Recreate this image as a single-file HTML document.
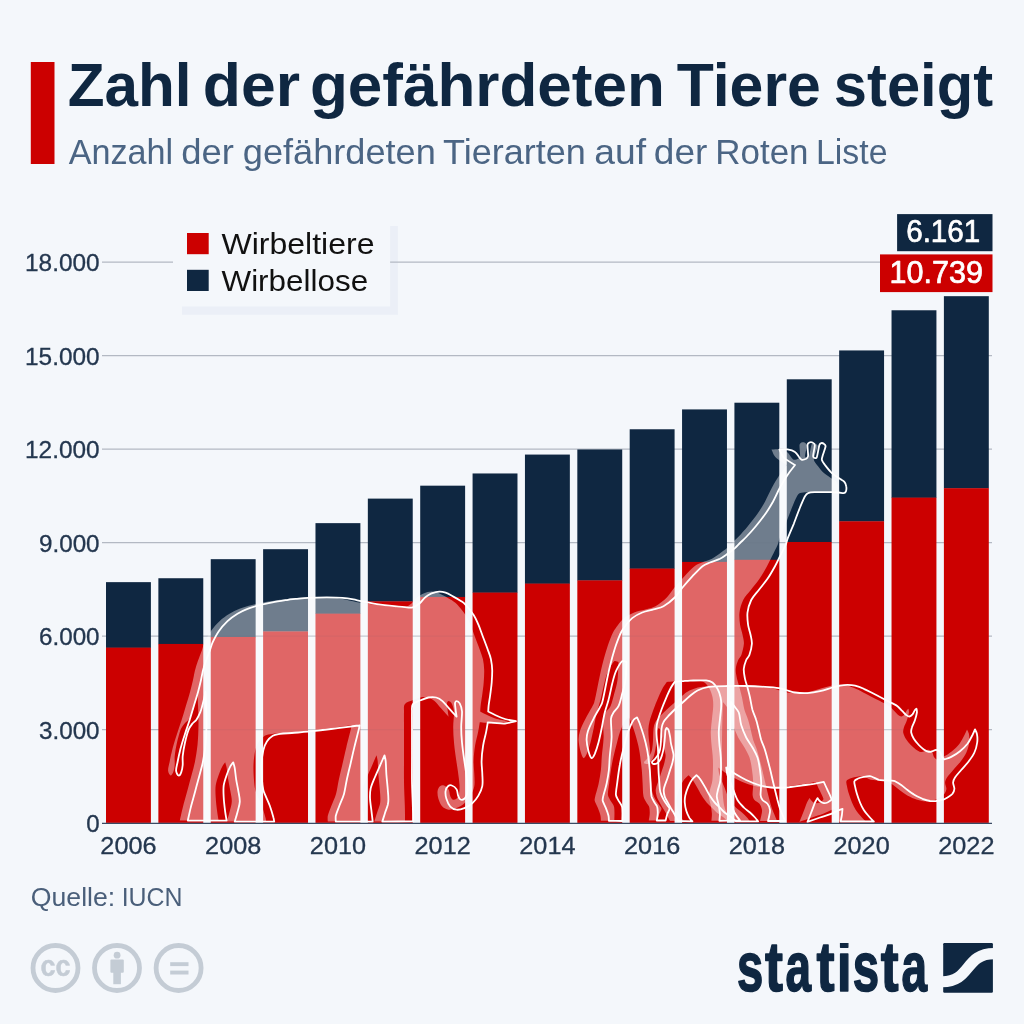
<!DOCTYPE html>
<html lang="de">
<head>
<meta charset="utf-8">
<title>Zahl der gefährdeten Tiere steigt</title>
<style>
html,body{margin:0;padding:0;background:#f4f7fb;}
body{width:1024px;height:1024px;overflow:hidden;font-family:'Liberation Sans', Arial, Helvetica, sans-serif;}
svg{display:block;position:absolute;left:0;top:0;}
text{font-family:'Liberation Sans', Arial, Helvetica, sans-serif;}
.t-title{font-weight:700;fill:#0f2741;}
.t-sub{fill:#4b6584;}
.t-axis{fill:#24374f;stroke:#24374f;stroke-width:0.3px;}
.t-leg{fill:#111111;}
.t-val{fill:#ffffff;stroke:#ffffff;stroke-width:0.7px;stroke-linejoin:round;}
.t-src{fill:#4a5f7a;}
.t-logo{font-weight:700;fill:#0f2741;}
</style>
</head>
<body>
<svg width="1024" height="1024" viewBox="0 0 1024 1024">
<rect x="0" y="0" width="1024" height="1024" fill="#f4f7fb"/>
<g id="header">
<rect x="30.8" y="62" width="23.7" height="102" fill="#cc0000"/>
<text class="t-title" y="105.6" font-size="62"><tspan x="67.7" textLength="123.83" lengthAdjust="spacingAndGlyphs">Zahl</tspan> <tspan x="202.78" textLength="97.21" lengthAdjust="spacingAndGlyphs">der</tspan> <tspan x="310" textLength="354.84" lengthAdjust="spacingAndGlyphs">gefährdeten</tspan> <tspan x="676.77" textLength="144.02" lengthAdjust="spacingAndGlyphs">Tiere</tspan> <tspan x="833.83" textLength="159.24" lengthAdjust="spacingAndGlyphs">steigt</tspan></text>
<text class="t-sub" y="163.6" font-size="34.6"><tspan x="68.75" textLength="104.46" lengthAdjust="spacingAndGlyphs">Anzahl</tspan> <tspan x="181.22" textLength="52.69" lengthAdjust="spacingAndGlyphs">der</tspan> <tspan x="242.83" textLength="193" lengthAdjust="spacingAndGlyphs">gefährdeten</tspan> <tspan x="442.97" textLength="142.87" lengthAdjust="spacingAndGlyphs">Tierarten</tspan> <tspan x="594.38" textLength="51.8" lengthAdjust="spacingAndGlyphs">auf</tspan> <tspan x="653.89" textLength="53.52" lengthAdjust="spacingAndGlyphs">der</tspan> <tspan x="715.32" textLength="93.23" lengthAdjust="spacingAndGlyphs">Roten</tspan> <tspan x="816.06" textLength="71.45" lengthAdjust="spacingAndGlyphs">Liste</tspan></text>
</g>
<rect id="legend-shadow" x="182" y="226" width="215.9" height="88.8" fill="#ebeff7"/>
<g id="grid" stroke="#b3b9c3" stroke-width="1.2">
<line x1="102" y1="729.7" x2="992" y2="729.7"/>
<line x1="102" y1="636.2" x2="992" y2="636.2"/>
<line x1="102" y1="542.7" x2="992" y2="542.7"/>
<line x1="102" y1="449.2" x2="992" y2="449.2"/>
<line x1="102" y1="355.7" x2="992" y2="355.7"/>
<line x1="102" y1="262.2" x2="992" y2="262.2"/>
</g>
<g id="ylabels" class="t-axis" font-size="23.3" text-anchor="end">
<text x="99.6" y="832" textLength="13.4" lengthAdjust="spacingAndGlyphs">0</text>
<text x="99.6" y="738.5" textLength="60.6" lengthAdjust="spacingAndGlyphs">3.000</text>
<text x="99.6" y="645" textLength="60.6" lengthAdjust="spacingAndGlyphs">6.000</text>
<text x="99.6" y="551.5" textLength="60.6" lengthAdjust="spacingAndGlyphs">9.000</text>
<text x="99.6" y="458" textLength="74.6" lengthAdjust="spacingAndGlyphs">12.000</text>
<text x="99.6" y="364.5" textLength="74.6" lengthAdjust="spacingAndGlyphs">15.000</text>
<text x="99.6" y="271" textLength="74.6" lengthAdjust="spacingAndGlyphs">18.000</text>
</g>
<g id="legend">
<rect x="173" y="218" width="217.1" height="88.5" fill="#f4f7fb"/>
<rect x="187" y="233" width="21.7" height="21.2" fill="#cc0000"/>
<rect x="187" y="269.8" width="21.7" height="21.2" fill="#0f2741"/>
<text class="t-leg" y="254" font-size="30"><tspan x="221.48" textLength="152.98" lengthAdjust="spacingAndGlyphs">Wirbeltiere</tspan></text>
<text class="t-leg" y="290.8" font-size="30"><tspan x="221.49" textLength="146.62" lengthAdjust="spacingAndGlyphs">Wirbellose</tspan></text>
</g>
<g id="bars">
<rect x="106" y="582.14" width="44.9" height="65.78" fill="#0f2741"/>
<rect x="106" y="647.62" width="44.9" height="175.28" fill="#cc0000"/>
<rect x="158.37" y="578.24" width="44.9" height="66" fill="#0f2741"/>
<rect x="158.37" y="643.94" width="44.9" height="178.96" fill="#cc0000"/>
<rect x="210.74" y="559.17" width="44.9" height="78.09" fill="#0f2741"/>
<rect x="210.74" y="636.96" width="44.9" height="185.94" fill="#cc0000"/>
<rect x="263.11" y="549.19" width="44.9" height="82.55" fill="#0f2741"/>
<rect x="263.11" y="631.44" width="44.9" height="191.46" fill="#cc0000"/>
<rect x="315.48" y="523.14" width="44.9" height="90.81" fill="#0f2741"/>
<rect x="315.48" y="613.65" width="44.9" height="209.25" fill="#cc0000"/>
<rect x="367.84" y="498.61" width="44.9" height="103.06" fill="#0f2741"/>
<rect x="367.84" y="601.37" width="44.9" height="221.53" fill="#cc0000"/>
<rect x="420.21" y="485.68" width="44.9" height="111.56" fill="#0f2741"/>
<rect x="420.21" y="596.94" width="44.9" height="225.96" fill="#cc0000"/>
<rect x="472.58" y="473.46" width="44.9" height="119.42" fill="#0f2741"/>
<rect x="472.58" y="592.58" width="44.9" height="230.32" fill="#cc0000"/>
<rect x="524.95" y="454.57" width="44.9" height="129.33" fill="#0f2741"/>
<rect x="524.95" y="583.6" width="44.9" height="239.3" fill="#cc0000"/>
<rect x="577.32" y="449.46" width="44.9" height="131.23" fill="#0f2741"/>
<rect x="577.32" y="580.39" width="44.9" height="242.51" fill="#cc0000"/>
<rect x="629.69" y="429.26" width="44.9" height="139.61" fill="#0f2741"/>
<rect x="629.69" y="568.58" width="44.9" height="254.32" fill="#cc0000"/>
<rect x="682.06" y="409.41" width="44.9" height="152.8" fill="#0f2741"/>
<rect x="682.06" y="561.91" width="44.9" height="260.99" fill="#cc0000"/>
<rect x="734.42" y="402.71" width="44.9" height="157.38" fill="#0f2741"/>
<rect x="734.42" y="559.79" width="44.9" height="263.11" fill="#cc0000"/>
<rect x="786.79" y="379.3" width="44.9" height="162.99" fill="#0f2741"/>
<rect x="786.79" y="541.99" width="44.9" height="280.91" fill="#cc0000"/>
<rect x="839.16" y="350.44" width="44.9" height="171.16" fill="#0f2741"/>
<rect x="839.16" y="521.3" width="44.9" height="301.6" fill="#cc0000"/>
<rect x="891.53" y="310.27" width="44.9" height="187.64" fill="#0f2741"/>
<rect x="891.53" y="497.61" width="44.9" height="325.29" fill="#cc0000"/>
<rect x="943.9" y="296.18" width="44.9" height="192.32" fill="#0f2741"/>
<rect x="943.9" y="488.2" width="44.9" height="334.7" fill="#cc0000"/>
</g>
<g id="animals">
<defs>
<clipPath id="clip-elephant"><path d="M202 650C202.9 647.5 203.4 644.9 204.5 642.5C206 639.4 208.3 634.8 210.8 631.2C213.2 627.7 216.4 624.2 219.5 621.2C222.5 618.4 226.2 615.8 229.5 613.8C232.7 611.8 236 610.1 239.5 608.8C243.2 607.3 247.8 606.1 252 605C256.1 603.9 260.3 603.1 264.5 602.3C269.2 601.4 276.1 600.4 280 599.8C282.5 599.4 285.1 599.2 287.6 598.9C291 598.6 295.9 598 300.1 597.8C305.3 597.5 313.2 597.3 318.9 597.3C324.1 597.3 330.1 597.4 334.5 597.8C338.2 598.1 342.3 598.8 345.4 599.4C348 599.9 350.6 600.7 353.2 601.2C356.6 602 361.6 603 365.8 603.6C370.4 604.3 376.2 605 381.4 605.6C386.6 606.2 393.1 606.9 397 607.2C399.6 607.4 402.3 608 404.8 607.3C407.3 606.6 409.7 604.9 411.8 603.2C413.9 601.5 415.3 598.9 417.3 597.3C419.2 595.7 421.3 594.3 423.6 593.4C426 592.5 429.1 591.7 431.4 591.6C433.5 591.5 435.6 592 437.6 592.7C439.9 593.5 442.8 595.2 445.4 596.6C448 598 451.3 600 453.2 601.2C454.7 602.2 456.1 603.1 457.2 604.4C459.3 606.7 463.6 611.9 465.8 615.3C467.7 618.2 469 621.5 470.4 624.7C472 628.4 473.5 633 475.1 637.2C476.7 641.4 478.5 646.1 479.8 649.7C480.9 652.8 482.2 655.9 482.9 659.1C483.6 662.5 484.1 666.3 484.2 670C484.3 673.9 484 678.3 483.7 682.5C483.4 686.7 482.7 691.1 482.2 695C481.7 698.6 480.9 703.1 480.6 705.9C480.4 707.8 480.3 710.6 480.2 711.5C481.4 712.1 485.1 714.1 487.6 715.2C490.4 716.5 493.8 718 497 719C500.4 720 506.1 720.8 507.9 721.2C506.1 721.6 500.6 723.2 497 723.5C493.4 723.8 488.9 723 486 722.8C483.9 722.7 480.8 722.4 479.8 722.3C479.5 723.8 478.9 728.5 478.2 731.6C477.5 735.5 475.8 740.9 475.1 745.6C474.3 750.5 473.7 756.6 473.6 761.2C473.5 765.4 474.2 769.6 474.3 773.8C474.4 777.9 475 782.6 474.3 786.2C473.7 789.6 472.1 792.7 470.4 795.6C468.7 798.5 466.5 801.3 464.2 803.4C461.9 805.4 459 807 456.4 808.1C453.9 809.1 451 810 448.6 809.7C446.3 809.5 443.9 808.3 442.3 806.6C440.6 804.8 439.2 801.4 438.4 798.8C437.6 796.2 437.3 793 437.6 790.9C437.8 789.2 438.9 787.1 440 786.2C441 785.4 442.7 785 443.9 785.5C445.3 786 447.6 787.7 448.6 789.4C449.6 791.1 449.5 793.9 450.1 795.6C450.6 797 451.4 799 452.5 799.5C453.6 800 455.4 799.6 456.4 798.8C457.5 797.8 458.6 795.8 459 794C459.5 791.7 459.6 788 459.5 785C459.3 781.3 458.5 776 458 772C457.5 768.4 456.9 764.8 456.4 761.2C455.7 756.3 454.5 748.2 454 742.5C453.5 737.3 453.2 732.1 453.2 726.9C453.2 721.7 454.3 715.2 454 711.2C453.8 708.5 452.6 705.1 451.7 703.4C451.1 702.3 449.4 701.1 448.6 701.1C447.8 701.1 447 702.5 447 703.4C447 706 448.3 714.5 448.6 716.7C447.3 715.3 443.1 710.7 440.8 708.1C438.7 705.8 436.6 702.9 434.5 701.1C432.7 699.5 430.6 698.1 428.2 697.5C425.9 696.9 423 697 420.4 697.5C417.8 698 415.1 699.2 412.6 700.3C410 701.4 406.2 702.2 404.8 704.2C403.4 706.2 404.1 709.4 404 712C403.9 715.8 404 721.9 404 726.9C404 734.6 404 749 404 758.1C404 765.9 403.9 773.8 404 781.6C404.1 789.4 404.6 798.4 404.8 805C405 810.5 405.1 818.7 405.1 821.4C400 821.4 379.4 821.6 374.3 821.6C374.8 820.2 376.1 815.8 377 813C377.9 810.3 379.2 807.1 379.8 804.8C380.2 803 380.4 801.2 380.4 799.4C380.4 796.9 380.1 793 379.8 789.8C379.5 785.7 378.8 779.6 378.4 774.8C378.1 770.2 378 764.4 377.7 761.1C377.5 759.1 376.7 756.3 376.5 755.3C375.8 756.9 373.6 761.9 372.2 765.2C370.6 768.9 368.4 773.6 366.8 777.5C365.3 781.1 363.5 785 362.7 788.4C362 791.5 361.9 794.8 362 798C362.1 801.6 362.9 806.4 363.4 810.3C363.8 814.1 364.5 819.7 364.7 821.6C358.6 821.6 333.9 821.6 327.8 821.6C327.8 820.6 327.4 817.7 327.8 815.8C328.4 813.2 330 809.4 331.2 806.2C332.6 802.6 334.8 798.1 336 793.9C337.2 789.6 337.7 784.7 338.7 780.2C339.7 775.4 341 770.2 342.2 765.2C343.5 759.7 344.9 753.1 346.3 747.4C347.6 741.9 349.5 734.7 350.4 731C350.9 729.1 351.5 726.2 351.7 725.3C350.1 725.5 345.4 726.2 342.2 726.6C337.4 727.2 329.4 728.2 323 729C315.9 729.9 306.3 731 299.8 731.7C294.5 732.2 288.4 732.6 283.8 733C279.9 733.3 275.3 733.4 272.1 733.9C269.6 734.3 267 734.4 264.8 735.7C262.6 737 260.4 739.2 258.9 741.5C257.3 743.9 256 747.2 255.3 750.3C254.4 754.2 253.7 760.1 253.5 765C253.3 770 253.7 775.9 254 780C254.2 783.3 254.7 787.3 255.3 789.9C255.7 791.9 256.7 793.8 257.5 795.7C258.6 798.4 260.6 802.5 261.9 806C263.2 809.7 264.8 815.1 265.5 817.7C265.9 819 266.1 821 266.2 821.6C259.7 821.6 233.3 821.6 226.7 821.6C227.2 820 228.8 815.1 229.6 811.8C230.4 808.5 231.7 805 231.8 801.6C231.9 798.2 231 794.7 230.4 791.3C229.8 787.6 228.8 783.5 228.2 779.6C227.6 775.7 227.2 770.8 226.7 767.9C226.4 766 225.4 763.2 225.2 762.3C224.7 763 223.1 764.9 222.3 766.4C221.2 768.5 219.6 772.2 218.6 775.2C217.5 778.4 216.2 782 215.7 785.5C215.2 789.2 215.5 793.3 215.7 797.2C215.9 801.6 216.7 807.9 217.2 811.8C217.6 814.7 218.4 819.1 218.6 820.6C212.1 820.6 186.3 820.6 179.8 820.6C180.3 818.4 181.7 811.8 182.8 807.4C184 802.5 185.8 796.7 187.2 791.3C188.6 785.9 190.2 780.1 191.5 775.2C192.7 770.8 194 766.5 194.9 762C195.9 757 196.9 750.7 197.5 745C198.1 738.8 198.4 731.7 198.5 725C198.6 718.3 198.2 710.5 198 705C197.9 700.7 197.6 694.2 197.5 692C197.2 693.2 196.5 696.9 196 699C195.5 701 195 702.9 194.5 704.9C193.9 707.1 193.3 709.8 192.3 712.2C191.3 714.6 189.9 717.5 188.6 719.5C187.4 721.2 185.5 722.3 184.2 723.9C182.9 725.6 181.4 727.6 180.6 729.8C179.4 733 177.9 738.6 176.9 743C175.9 747.4 175.1 752.5 174.7 756.2C174.4 759.1 174.9 762.3 174.7 765C174.5 767.5 173.9 770.5 173.2 772.3C172.7 773.6 171.3 775.8 170.5 775.5C169.7 775.2 168.2 772.6 168.1 770.8C167.9 768.5 169 764.9 169.6 762C170.3 758.3 171.4 753.2 172.5 748.8C173.7 744.2 175.4 738.8 176.9 734.2C178.3 729.8 179.9 725.4 181.3 721C182.8 716.4 184.2 711.3 185.7 706.4C187.2 701.5 188.9 696.1 190.1 691.7C191.2 687.8 192.1 683.9 193 680C193.9 676 194.5 671.6 195.8 667.5C197.2 662.5 200.5 654.2 202 650Z"/></clipPath>
<clipPath id="clip-giraffe"><path d="M771.5 449.5C772.8 449.5 776.9 449 779.5 449.4C782.1 449.8 785 450.5 787 451.9C789 453.2 790.2 456.2 791.4 457.5C792.1 458.3 792.8 459.5 793.9 459.8C795 460 797.2 459.3 798.2 458.8C799.2 458.2 800 457.3 800.1 456.2C800.3 454 799.3 447.3 799.5 445C799.6 444 800.6 442.9 801.4 442.5C802.2 442.1 803.6 442.1 804.5 442.5C805.4 442.9 806.7 443.9 806.8 445C806.9 447.3 805.1 454.1 805.1 456.2C805.1 457.1 806.4 458 807 458.1C807.6 458.2 808.7 457.6 808.9 456.9C809.6 454.7 810.7 447.3 811.4 445C811.7 444.2 812.5 443.3 813.2 443.1C814 442.9 815.1 443.2 815.8 443.8C816.5 444.3 817.7 445.2 817.6 446.2C817.4 448.3 815.1 454 814.5 456.2C814.2 457.5 813.6 458.8 813.9 460C814.3 461.5 815.8 463.4 817 465C818.7 467.2 821.4 470.8 823.9 473.1C826.3 475.3 829.9 477.3 832 478.8C833.5 479.8 835.4 480.6 836.4 481.9C837.4 483.1 838 484.7 838.2 486.2C838.5 487.8 838.4 490.1 838 491.2C837.7 492.2 836.7 492.9 835.8 493.1C834.5 493.3 832.4 492.6 830.8 492.5C828.8 492.4 826.2 492.3 823.9 492.2C819.9 492.2 811 492.1 807 492.2C804.7 492.3 801.8 492.4 800.1 493.1C798.7 493.6 797.7 495 797 496.2C795.6 498.6 793.6 503.7 792 507.5C790.1 512.1 787.8 518.5 785.8 523.8C783.7 528.8 780.9 535.2 779.5 538.8C778.7 540.8 778.5 543 777.6 545C776.4 547.9 773.8 552.7 772 556.2C770.3 559.6 768.8 563 767 566.2C764.9 570 762.2 574.8 759.5 578.8C756.8 582.7 753.5 586.5 750.8 590C748.2 593.3 745.1 596.3 743.2 600C741.4 603.8 740 608.3 739.5 612.5C739 616.6 739.6 621.2 740.1 625C740.6 628.4 742 631.9 742.6 635C743.2 637.9 744.1 640.8 743.9 643.8C743.7 647.1 742.3 652.3 741.4 655C740.8 656.9 739 658.2 738.2 660C737.3 662.3 736 665.7 735.8 668.8C735.5 671.9 736.4 675.6 737 678.8C737.6 681.7 738.7 684.6 739.5 687.5C740.3 690.6 741.3 694.1 742 697.5C742.8 701.2 743.5 706.2 744.5 710C745.5 713.4 747.2 716.7 748.2 720C749.3 723.3 749.9 726.7 750.8 730C751.6 733.3 752.2 736.7 753.2 740C754.3 743.3 756 746.6 757 750C758.5 754.8 760.5 762.9 762 768.8C763.3 774.1 764.5 779.8 765.8 785C767 790 768.5 796 769.5 800C770.3 802.9 771.1 806.1 772 808.8C772.9 811.2 774.2 814 775 816C775.7 817.7 776.7 820.2 777 821C774.2 821 762.8 821 760 821C760.2 820 761.1 816.8 761.4 815C761.7 813.3 762.3 811.7 762 810C761.7 808.1 760.8 805.4 759.5 803.8C758.2 802.1 755.6 801.5 754.5 800C753.4 798.6 752.7 796.8 752.6 795C752.4 792.1 753.4 786.7 753.2 782.5C753.1 778.3 752.6 774.1 752 770C751.4 765.8 750.8 761.2 749.5 757.5C748.3 754 746.3 750.7 744.5 747.5C742.6 744.2 740 741 738.2 737.5C736.4 733.8 734.5 729.2 733.2 725C732 720.9 732 715.7 730.8 712.5C729.7 709.9 727 707.4 725.8 705.6C724.9 704.4 723.5 702.6 723 702C722.9 704.2 722.6 710.7 722.5 715C722.3 723 722 738.3 722 750C722 762.5 722.2 780.8 722.5 790C722.7 795 723.4 801.2 724 805C724.4 807.6 725.2 810.2 726.4 812.5C727.7 815.1 731.1 819.2 732 820.5C728.6 820.5 714.8 820.8 711.4 820.8C711.5 819.6 712 816.1 711.9 813.8C711.8 811.3 711.3 808.4 710.8 805.7C710.3 802.8 709 799.1 708.8 796.6C708.7 794.5 709.4 792.5 709.8 790.5C710.4 787.8 712 783.8 712.4 780.3C712.9 775.2 713.1 766.1 712.9 760C712.8 754.6 711.8 748.5 711.4 743.8C711.1 739.6 710.6 735.4 710.8 731.2C710.9 727.1 711.6 722.9 712 718.8C712.4 714.6 713.1 709.8 713.2 706.2C713.3 703.3 713.2 700.4 712.6 697.5C712 694.6 710.9 691.2 709.5 688.8C708.2 686.4 706.4 683.9 704.5 682.5C702.7 681.2 700.4 680.6 698.2 680.4C694.5 680.1 686 680.5 682 680.6C679.4 680.7 676.8 681 674.2 681.2C671.7 681.5 668 681.8 666.8 681.9C666.1 682.8 664.1 685.5 663 687.5C661.6 690.1 659.7 694.3 658.2 697.8C656.6 701.5 654.9 705.6 653.5 709.5C652.1 713.4 650.5 718 649.6 721.2C648.9 723.8 648.5 726.4 648.4 729C648.3 731.9 648.5 735.3 648.8 738.4C649.1 741.7 649.8 745.2 650 748.6C650.3 753.9 650.3 764.2 650.5 770C650.7 774.4 651.1 779.5 651.4 783.2C651.6 786.1 651.6 789.2 652.3 792C653 794.8 654.6 797.7 655.8 799.9C656.8 801.8 658.3 803.7 659.3 805.2C660 806.4 661.5 807.3 661.5 808.7C661.5 810.2 659.9 812.2 659.3 814C658.6 816 657.9 819.4 657.6 820.5C656.1 820.5 650.3 820.5 648.8 820.5C648.9 819.4 649.6 816.2 649.7 814C649.8 811.7 649.7 808.7 649.2 806.9C648.9 805.6 647.7 804.6 647 803.4C646 801.6 644.1 798.9 643.5 796.4C642.8 793 642.9 787.6 642.6 783.2C642.3 778.8 642.2 774.4 641.8 770C641.2 764.5 640.3 755.8 639.2 750C638.3 744.9 636.8 739.4 635.5 735C634.4 731.2 632.8 726.7 631.8 723.8C631 721.6 629.5 718.5 629 717.4C628.4 717.8 626.3 718.8 625.5 720C624.3 721.7 622.8 725 621.8 727.5C620.7 729.9 619.7 732.4 619 735C617.8 739.4 615.5 748.8 614.2 753.8C613.3 757.5 612.4 761.2 611.8 765C610.9 769.9 609.8 778.3 609.2 783.2C608.7 787 607.8 791.8 607.9 794.6C608 796.5 609.2 798.2 610.1 799.9C611.1 801.9 613.6 804.3 614.1 806.9C614.8 810.4 614.3 818.6 614.3 821C612.1 821 603.1 820.8 600.9 820.8C600.8 819.9 600.9 817.4 600.5 815.7C600 813.5 598.8 810.3 597.8 807.8C596.9 805.4 595.1 802.6 594.7 800.8C594.4 799.3 594.9 797.8 595.2 796.4C595.9 793.5 597.8 787.6 598.7 783.2C599.6 778.8 600.4 774.4 600.9 770C601.4 765.5 601.4 760.8 601.8 756.2C602.2 750.8 603.4 743.8 603.6 737.5C603.8 731.3 602.7 722.9 603 718.8C603.2 716.5 604.3 714.4 605.5 712.5C606.8 710.4 609.4 708.7 610.5 706.2C612 703.1 613.1 698 614.2 693.8C615.4 689.4 616.9 684.7 617.5 680C618.2 674.7 618.3 665 618.5 662C617.8 661.9 615.3 660.3 614.2 661.2C612.5 662.8 609.6 667.7 608 671.2C606.3 675 605.3 679.5 604.2 683.8C603 688.5 601.8 695.2 600.5 700C599.4 704.2 597.8 708.3 596.8 712.5C595.6 717.3 594.6 723.8 593.6 728.8C592.6 733.3 591.6 738.3 590.5 742.5C589.5 746.3 587.9 751.1 586.8 753.8C586 755.4 584.6 758.5 583.6 758.1C582.6 757.7 581.2 753.7 580.5 751.2C579.7 748.2 578.7 743.3 578.6 740C578.5 737.1 579 734.1 579.9 731.2C581 727.7 583.5 722.7 585.5 718.8C587.4 714.9 590.3 710.2 591.8 707.5C592.6 705.9 593.7 704.3 594.2 702.5C595.2 699.2 596.4 692.5 597.4 687.5C598.4 682.5 599.4 677.5 600.5 672.5C601.6 667.5 603 662.1 604.2 657.5C605.4 653.3 606.6 649.1 608 645C609.5 640.8 611.3 635.8 613 632.5C614.3 629.8 616.2 627.4 618 625C619.9 622.6 621.8 620 624.2 618.1C627 616 630.7 613.9 634.2 612.5C637.8 611 642 610.4 645.5 609.4C648.9 608.4 652.5 608 655.5 606.2C659 604.3 663.6 600.6 666.8 597.5C669.8 594.5 671.8 590.7 674.5 587.5C677.5 584 681.2 579.8 684.5 576.2C687.7 572.8 691.6 568.5 694.5 566.2C696.7 564.5 699.4 563.6 702 562.5C704.9 561.2 709.1 560.2 712 558.8C714.7 557.4 717.1 555.5 719.5 553.8C722 552 724.9 549.9 727 548.1C728.8 546.5 730.3 544.7 732 543C733.9 541.1 736.3 539.1 738.2 537C740.9 534.2 744.9 529.8 748 526C751.3 522 755.1 517.1 758 513C760.6 509.3 762.9 505.4 765.1 501.5C767.4 497.2 769.6 491.9 772 487.5C774.3 483.2 777 478.8 779.5 475C781.8 471.5 785.8 466.7 787 465C785.1 463.8 778.3 460.1 775.8 457.5C773.6 455.4 772.2 450.8 771.5 449.5Z"/></clipPath>
<clipPath id="clip-rhino"><path d="M653.5 729.1C653.8 727 654.1 724.7 655.1 722.8C656.1 720.7 658 718.5 659.8 716.6C661.7 714.4 664.5 711.7 666.8 709.5C669.1 707.4 671.5 705.4 673.8 703.3C676.3 701.1 679 698.4 681.6 696.2C684.1 694.2 686.6 691.9 689.5 690.5C692.7 688.9 696.9 687.5 700.8 686.9C705.8 686.1 713.2 686.1 719.5 686C725.7 685.9 732 685.9 738.2 686C744.5 686.1 751.6 686.5 757 686.9C761.6 687.2 767.2 687.6 770.8 688.1C773.3 688.5 775.8 689.3 778.2 690C781 690.7 784 692.1 787 692.5C790.5 693 795.3 693.3 799.5 693.1C803.7 692.9 807.9 692.2 812 691.2C816.2 690.3 821.2 688.4 824.5 687.5C827 686.8 829.5 686.1 832 685.6C834.5 685.1 837 684.8 839.5 684.8C842 684.8 844.6 685 847 685.6C849.7 686.3 852.9 687.5 855.8 688.8C858.9 690.1 862.4 692.1 865.8 693.8C869.1 695.5 872.7 697.4 875.8 699C878.5 700.4 881.6 701.9 883.9 703.1C885.8 704.1 887.8 704.9 889.5 706.2C891.3 707.6 893 709.8 894.5 711.2C895.8 712.5 897.1 714.1 898.2 715C899.2 715.7 900.4 716.6 901.4 716.5C902.4 716.4 903.7 715.3 904.5 714.4C905.4 713.3 906.3 710.9 907 710C907.4 709.5 908.2 709 908.5 708.8C908.6 709.4 909.1 711.3 908.9 712.5C908.6 714.4 907.8 717.6 907 720C906.2 722.5 904.5 725.4 903.9 727.5C903.4 729.1 903 730.8 903.2 732.5C903.6 734.4 904.6 736.8 905.8 738.8C907 740.8 909.1 743.2 910.8 745C912.3 746.6 914.1 748.2 915.8 749.4C917.3 750.5 919.3 751.6 920.8 751.9C922 752.2 923.3 751.6 924.5 751.2C925.8 750.9 927 749.6 928.2 749.8C929.5 749.9 931.1 750.9 932 752C933 753.2 933.3 755.8 934 757C934.6 758 936 759 936.4 759.4C937.5 759 941.1 758 943.2 756.9C945.9 755.5 949.3 753.4 952 751.2C954.7 749.1 957.4 746.5 959.5 743.8C961.5 741.1 963.2 737.4 964.5 735C965.4 733.2 966.6 730.3 967 729.4C967.3 730.1 968.6 732.2 968.9 733.8C969.3 735.9 969.6 739.6 969.2 742.5C968.8 745.6 967.8 749.4 966.4 752.5C965 755.6 962.8 758.5 960.8 761.2C958.6 764.2 955.5 767.3 953.2 770C951.1 772.5 948.4 775.4 947 777.5C946 779 945.2 780.7 945.1 782.5C945 784.4 946.5 786.9 946.4 788.8C946.3 790.5 945.6 792.3 944.5 793.8C943.4 795.2 940.9 796.6 939.5 797.5C938.4 798.2 937.3 799 936 799.4C934.1 800 930.6 800.7 928.2 801C926.2 801.2 924.1 801.3 922 801C919.7 800.6 916.9 799.7 914.5 798.8C911.8 797.6 908.2 795.9 905.8 794.4C903.5 793.1 901.5 791.5 899.5 790C897.4 788.4 895.3 786.5 893.2 785C891.3 783.6 888.6 782 887 781.2C886 780.8 885 780.7 883.9 780.6C882 780.4 877.9 780.4 875.8 780.3C874.1 780.2 872.2 780.1 870.8 779.8C869.4 779.4 868.3 778.6 867 778.1C865.5 777.5 863.8 776.4 862 776.2C860.1 776 857.8 776.5 855.8 776.9C853.7 777.3 851.1 778 849.5 778.8C848.3 779.3 846.8 780 846.4 781.2C846 782.5 846.7 784.6 847 786.2C847.4 788.3 848.1 791.3 848.9 793.8C849.7 796.5 850.9 799.8 852 802.5C853.1 805.1 854.3 807.7 855.8 810C857.2 812.3 859.1 814.3 860.8 816.2C862.3 818.1 864.9 820.6 865.8 821.5C860.2 821.5 838.1 821.5 832.6 821.5C832.8 820.4 833.6 817.1 833.9 815C834.2 812.9 834.4 809.8 834.5 808.8C834 809 832.4 809.5 831.4 810C829.5 810.8 826 812.7 823.2 813.8C820 815 815.7 816.2 812 817.5C808 818.9 801.6 821.2 799.5 821.9C800.1 820.3 802 815.6 803.2 812.5C804.5 809.3 806 804.9 807 802.5C807.7 801 809.1 798.8 809.5 798.1C809.9 798.6 811 800.4 812 801.2C813 802.1 814.5 802.9 815.8 803.1C817 803.3 818.3 803 819.5 802.5C820.8 802 822.6 800.4 823.2 800C823.2 799.7 823.5 798.7 823.2 798.1C822.6 796.4 820.8 792.7 819.5 790C818.2 787.3 816.4 783.2 815.8 781.9C814.1 782.2 809.1 783.2 805.8 783.8C802 784.4 797.4 785 793.2 785.6C788.7 786.2 783.2 787.2 778.2 787.5C773.3 787.8 767.8 787.9 763.2 787.5C759 787.1 754.8 786.2 750.8 785C746.6 783.8 742.2 781.9 738.2 780C734.4 778.2 730.3 775.8 727 773.8C724 771.9 719.7 768.5 718.2 767.5C718.5 768.8 718.7 772.6 719.5 775C720.5 778.3 722.8 783.3 724.5 787.5C726.2 791.7 727.6 796.7 729.5 800C731.1 802.8 733.7 805.4 735.8 807.5C737.6 809.4 740.1 810.8 742 812.5C743.8 814.1 745.6 816 747 817.5C748.1 818.7 749.6 820.8 750.1 821.4C746.4 821.4 731.7 821.4 728 821.4C727.2 820.7 724.8 818.4 723 817C721.1 815.6 718.8 814.3 716.9 812.8C715.1 811.3 713.6 809.4 711.9 807.7C710.2 806 708.3 804.5 706.8 802.7C705.1 800.7 703.3 798 701.7 795.5C700 792.8 698.3 789.3 696.6 786.4C695 783.7 692.9 780.2 691.5 778.3C690.7 777.1 689 775.7 688.5 775.2C687.8 775.9 685.5 777.7 684.4 779.3C683 781.2 681.5 783.9 680.4 786.4C679.2 789.1 677.9 792.8 677.3 795.5C676.8 797.8 676.6 800.3 676.8 802.7C677 805.2 677.5 808.3 678.3 810.8C679 813.3 680.4 816.1 681.4 817.9C682.2 819.2 683.9 820.8 684.4 821.4C682 821.3 672.4 821.1 670 821C669.4 819.8 667.4 815.9 666.4 814C665.6 812.5 664.6 811 663.7 809.5C662.7 807.7 661.3 805.5 660.2 803.4C659 801.2 657.4 798.8 656.7 796.4C656 794.1 655.5 791.7 655.8 789.3C656.2 786.4 658.2 782 659.3 778.8C660.3 775.9 661.2 772.7 662.1 770C662.9 767.6 663.8 765.1 664.4 762.7C665 760.4 665.6 757.8 665.6 755.6C665.6 753.5 664.8 751.5 664.4 749.4C663.9 747.3 663.3 745.2 662.9 743.1C662.5 741.1 662.5 739 662.1 736.9C661.7 734.7 661.1 731.3 660.5 729.8C660.2 729 658.9 728.2 658.6 727.9C658.4 728.4 657.6 729.6 657.4 730.6C657.1 732.8 657 737.4 656.6 740.8C656.2 744.2 655.8 747.9 655.1 750.9C654.5 753.6 653.8 756.7 652.7 758.8C651.8 760.6 650.1 762.6 648.8 763.4C647.7 764.1 645.7 764 644.9 763.8C644.2 763.6 643.8 762.5 644.1 761.9C644.5 761.1 646.4 759.9 647.2 758.8C648.4 757.2 650.3 754.8 651.2 752.5C652.1 750.2 652.4 747.3 652.7 744.7C653 742.1 653 739.5 653.1 736.9C653.2 734.3 653.2 731.5 653.5 729.1Z"/></clipPath>
</defs>
<g id="elephant-fill" clip-path="url(#clip-elephant)">
<rect x="164.1" y="587.6" width="347.8" height="238" fill="#ffffff" fill-opacity="0.4"/>
<line x1="164.1" y1="729.7" x2="511.9" y2="729.7" stroke="#5b6472" stroke-opacity="0.07" stroke-width="1.2"/>
<line x1="164.1" y1="636.2" x2="511.9" y2="636.2" stroke="#5b6472" stroke-opacity="0.07" stroke-width="1.2"/>
</g>
<g id="giraffe-fill" clip-path="url(#clip-giraffe)">
<rect x="574.6" y="438.5" width="267.6" height="386.5" fill="#ffffff" fill-opacity="0.4"/>
<line x1="574.6" y1="729.7" x2="842.2" y2="729.7" stroke="#5b6472" stroke-opacity="0.07" stroke-width="1.2"/>
<line x1="574.6" y1="636.2" x2="842.2" y2="636.2" stroke="#5b6472" stroke-opacity="0.07" stroke-width="1.2"/>
<line x1="574.6" y1="542.7" x2="842.2" y2="542.7" stroke="#5b6472" stroke-opacity="0.07" stroke-width="1.2"/>
<line x1="574.6" y1="449.2" x2="842.2" y2="449.2" stroke="#5b6472" stroke-opacity="0.07" stroke-width="1.2"/>
</g>
<g id="rhino-fill" clip-path="url(#clip-rhino)">
<rect x="640.1" y="680.8" width="333.1" height="145.1" fill="#ffffff" fill-opacity="0.4"/>
<line x1="640.1" y1="729.7" x2="973.2" y2="729.7" stroke="#5b6472" stroke-opacity="0.07" stroke-width="1.2"/>
</g>
<g id="animal-lines" fill="none" stroke="#ffffff" stroke-width="1.8" stroke-linejoin="round">
<path id="elephant-line" d="M210 650C210.9 647.5 211.4 644.9 212.5 642.5C214 639.4 216.3 634.8 218.8 631.2C221.2 627.7 224.4 624.2 227.5 621.2C230.5 618.4 234.2 615.8 237.5 613.8C240.7 611.8 244 610.1 247.5 608.8C251.2 607.3 255.8 606.1 260 605C264.1 603.9 268.3 603.1 272.5 602.3C277.2 601.4 284.1 600.4 288 599.8C290.5 599.4 293.1 599.2 295.6 598.9C299 598.6 303.9 598 308.1 597.8C313.3 597.5 321.2 597.3 326.9 597.3C332.1 597.3 338.1 597.4 342.5 597.8C346.2 598.1 350.3 598.8 353.4 599.4C356 599.9 358.6 600.7 361.2 601.2C364.6 602 369.6 603 373.8 603.6C378.4 604.3 384.2 605 389.4 605.6C394.6 606.2 401.1 606.9 405 607.2C407.6 607.4 410.3 608 412.8 607.3C415.3 606.6 417.7 604.9 419.8 603.2C421.9 601.5 423.3 598.9 425.3 597.3C427.2 595.7 429.3 594.3 431.6 593.4C434 592.5 437.1 591.7 439.4 591.6C441.5 591.5 443.6 592 445.6 592.7C447.9 593.5 450.8 595.2 453.4 596.6C456 598 459.3 600 461.2 601.2C462.7 602.2 464.1 603.1 465.2 604.4C467.3 606.7 471.6 611.9 473.8 615.3C475.7 618.2 477 621.5 478.4 624.7C480 628.4 481.5 633 483.1 637.2C484.7 641.4 486.5 646.1 487.8 649.7C488.9 652.8 490.2 655.9 490.9 659.1C491.6 662.5 492.1 666.3 492.2 670C492.3 673.9 492 678.3 491.7 682.5C491.4 686.7 490.7 691.1 490.2 695C489.7 698.6 488.9 703.1 488.6 705.9C488.4 707.8 488.3 710.6 488.2 711.5C489.4 712.1 493.1 714.1 495.6 715.2C498.4 716.5 501.8 718 505 719C508.4 720 514.1 720.8 515.9 721.2C514.1 721.6 508.6 723.2 505 723.5C501.4 723.8 496.9 723 494 722.8C491.9 722.7 488.8 722.4 487.8 722.3C487.5 723.8 486.9 728.5 486.2 731.6C485.5 735.5 483.8 740.9 483.1 745.6C482.3 750.5 481.7 756.6 481.6 761.2C481.5 765.4 482.2 769.6 482.3 773.8C482.4 777.9 483 782.6 482.3 786.2C481.7 789.6 480.1 792.7 478.4 795.6C476.7 798.5 474.5 801.3 472.2 803.4C469.9 805.4 467 807 464.4 808.1C461.9 809.1 459 810 456.6 809.7C454.3 809.5 451.9 808.3 450.3 806.6C448.6 804.8 447.2 801.4 446.4 798.8C445.6 796.2 445.3 793 445.6 790.9C445.8 789.2 446.9 787.1 448 786.2C449 785.4 450.7 785 451.9 785.5C453.3 786 455.6 787.7 456.6 789.4C457.6 791.1 457.5 793.9 458.1 795.6C458.6 797 459.4 799 460.5 799.5C461.6 800 463.4 799.6 464.4 798.8C465.5 797.8 466.6 795.8 467 794C467.5 791.7 467.6 788 467.5 785C467.3 781.3 466.5 776 466 772C465.5 768.4 464.9 764.8 464.4 761.2C463.7 756.3 462.5 748.2 462 742.5C461.5 737.3 461.2 732.1 461.2 726.9C461.2 721.7 462.3 715.2 462 711.2C461.8 708.5 460.6 705.1 459.7 703.4C459.1 702.3 457.4 701.1 456.6 701.1C455.8 701.1 455 702.5 455 703.4C455 706 456.3 714.5 456.6 716.7C455.3 715.3 451.1 710.7 448.8 708.1C446.7 705.8 444.6 702.9 442.5 701.1C440.7 699.5 438.6 698.1 436.2 697.5C433.9 696.9 431 697 428.4 697.5C425.8 698 423.1 699.2 420.6 700.3C418 701.4 414.2 702.2 412.8 704.2C411.4 706.2 412.1 709.4 412 712C411.9 715.8 412 721.9 412 726.9C412 734.6 412 749 412 758.1C412 765.9 411.9 773.8 412 781.6C412.1 789.4 412.6 798.4 412.8 805C413 810.5 413.1 818.7 413.1 821.4C408 821.4 387.4 821.6 382.3 821.6C382.8 820.2 384.1 815.8 385 813C385.9 810.3 387.2 807.1 387.8 804.8C388.2 803 388.4 801.2 388.4 799.4C388.4 796.9 388.1 793 387.8 789.8C387.5 785.7 386.8 779.6 386.4 774.8C386.1 770.2 386 764.4 385.7 761.1C385.5 759.1 384.7 756.3 384.5 755.3C383.8 756.9 381.6 761.9 380.2 765.2C378.6 768.9 376.4 773.6 374.8 777.5C373.3 781.1 371.5 785 370.7 788.4C370 791.5 369.9 794.8 370 798C370.1 801.6 370.9 806.4 371.4 810.3C371.8 814.1 372.5 819.7 372.7 821.6C366.6 821.6 341.9 821.6 335.8 821.6C335.8 820.6 335.4 817.7 335.8 815.8C336.4 813.2 338 809.4 339.2 806.2C340.6 802.6 342.8 798.1 344 793.9C345.2 789.6 345.7 784.7 346.7 780.2C347.7 775.4 349 770.2 350.2 765.2C351.5 759.7 352.9 753.1 354.3 747.4C355.6 741.9 357.5 734.7 358.4 731C358.9 729.1 359.5 726.2 359.7 725.3C358.1 725.5 353.4 726.2 350.2 726.6C345.4 727.2 337.4 728.2 331 729C323.9 729.9 314.3 731 307.8 731.7C302.5 732.2 296.4 732.6 291.8 733C287.9 733.3 283.3 733.4 280.1 733.9C277.6 734.3 275 734.4 272.8 735.7C270.6 737 268.4 739.2 266.9 741.5C265.3 743.9 264 747.2 263.3 750.3C262.4 754.2 261.7 760.1 261.5 765C261.3 770 261.7 775.9 262 780C262.2 783.3 262.7 787.3 263.3 789.9C263.7 791.9 264.7 793.8 265.5 795.7C266.6 798.4 268.6 802.5 269.9 806C271.2 809.7 272.8 815.1 273.5 817.7C273.9 819 274.1 821 274.2 821.6C267.7 821.6 241.3 821.6 234.7 821.6C235.2 820 236.8 815.1 237.6 811.8C238.4 808.5 239.7 805 239.8 801.6C239.9 798.2 239 794.7 238.4 791.3C237.8 787.6 236.8 783.5 236.2 779.6C235.6 775.7 235.2 770.8 234.7 767.9C234.4 766 233.4 763.2 233.2 762.3C232.7 763 231.1 764.9 230.3 766.4C229.2 768.5 227.6 772.2 226.6 775.2C225.5 778.4 224.2 782 223.7 785.5C223.2 789.2 223.5 793.3 223.7 797.2C223.9 801.6 224.7 807.9 225.2 811.8C225.6 814.7 226.4 819.1 226.6 820.6C220.1 820.6 194.3 820.6 187.8 820.6C188.3 818.4 189.7 811.8 190.8 807.4C192 802.5 193.8 796.7 195.2 791.3C196.6 785.9 198.2 780.1 199.5 775.2C200.7 770.8 202 766.5 202.9 762C203.9 757 204.9 750.7 205.5 745C206.1 738.8 206.4 731.7 206.5 725C206.6 718.3 206.2 710.5 206 705C205.9 700.7 205.6 694.2 205.5 692C205.2 693.2 204.5 696.9 204 699C203.5 701 203 702.9 202.5 704.9C201.9 707.1 201.3 709.8 200.3 712.2C199.3 714.6 197.9 717.5 196.6 719.5C195.4 721.2 193.5 722.3 192.2 723.9C190.9 725.6 189.4 727.6 188.6 729.8C187.4 733 185.9 738.6 184.9 743C183.9 747.4 183.1 752.5 182.7 756.2C182.4 759.1 182.9 762.3 182.7 765C182.5 767.5 181.9 770.5 181.2 772.3C180.7 773.6 179.3 775.8 178.5 775.5C177.7 775.2 176.2 772.6 176.1 770.8C175.9 768.5 177 764.9 177.6 762C178.3 758.3 179.4 753.2 180.5 748.8C181.7 744.2 183.4 738.8 184.9 734.2C186.3 729.8 187.9 725.4 189.3 721C190.8 716.4 192.2 711.3 193.7 706.4C195.2 701.5 196.9 696.1 198.1 691.7C199.2 687.8 200.1 683.9 201 680C201.9 676 202.5 671.6 203.8 667.5C205.2 662.5 208.5 654.2 210 650Z"/>
<path id="giraffe-line" d="M779.5 449.5C780.8 449.5 784.9 449 787.5 449.4C790.1 449.8 793 450.5 795 451.9C797 453.2 798.2 456.2 799.4 457.5C800.1 458.3 800.8 459.5 801.9 459.8C803 460 805.2 459.3 806.2 458.8C807.2 458.2 808 457.3 808.1 456.2C808.3 454 807.3 447.3 807.5 445C807.6 444 808.6 442.9 809.4 442.5C810.2 442.1 811.6 442.1 812.5 442.5C813.4 442.9 814.7 443.9 814.8 445C814.9 447.3 813.1 454.1 813.1 456.2C813.1 457.1 814.4 458 815 458.1C815.6 458.2 816.7 457.6 816.9 456.9C817.6 454.7 818.7 447.3 819.4 445C819.7 444.2 820.5 443.3 821.2 443.1C822 442.9 823.1 443.2 823.8 443.8C824.5 444.3 825.7 445.2 825.6 446.2C825.4 448.3 823.1 454 822.5 456.2C822.2 457.5 821.6 458.8 821.9 460C822.3 461.5 823.8 463.4 825 465C826.7 467.2 829.4 470.8 831.9 473.1C834.3 475.3 837.9 477.3 840 478.8C841.5 479.8 843.4 480.6 844.4 481.9C845.4 483.1 846 484.7 846.2 486.2C846.5 487.8 846.4 490.1 846 491.2C845.7 492.2 844.7 492.9 843.8 493.1C842.5 493.3 840.4 492.6 838.8 492.5C836.8 492.4 834.2 492.3 831.9 492.2C827.9 492.2 819 492.1 815 492.2C812.7 492.3 809.8 492.4 808.1 493.1C806.7 493.6 805.7 495 805 496.2C803.6 498.6 801.6 503.7 800 507.5C798.1 512.1 795.8 518.5 793.8 523.8C791.7 528.8 788.9 535.2 787.5 538.8C786.7 540.8 786.5 543 785.6 545C784.4 547.9 781.8 552.7 780 556.2C778.3 559.6 776.8 563 775 566.2C772.9 570 770.2 574.8 767.5 578.8C764.8 582.7 761.5 586.5 758.8 590C756.2 593.3 753.1 596.3 751.2 600C749.4 603.8 748 608.3 747.5 612.5C747 616.6 747.6 621.2 748.1 625C748.6 628.4 750 631.9 750.6 635C751.2 637.9 752.1 640.8 751.9 643.8C751.7 647.1 750.3 652.3 749.4 655C748.8 656.9 747 658.2 746.2 660C745.3 662.3 744 665.7 743.8 668.8C743.5 671.9 744.4 675.6 745 678.8C745.6 681.7 746.7 684.6 747.5 687.5C748.3 690.6 749.3 694.1 750 697.5C750.8 701.2 751.5 706.2 752.5 710C753.5 713.4 755.2 716.7 756.2 720C757.3 723.3 757.9 726.7 758.8 730C759.6 733.3 760.2 736.7 761.2 740C762.3 743.3 764 746.6 765 750C766.5 754.8 768.5 762.9 770 768.8C771.3 774.1 772.5 779.8 773.8 785C775 790 776.5 796 777.5 800C778.3 802.9 779.1 806.1 780 808.8C780.9 811.2 782.2 814 783 816C783.7 817.7 784.7 820.2 785 821C782.2 821 770.8 821 768 821C768.2 820 769.1 816.8 769.4 815C769.7 813.3 770.3 811.7 770 810C769.7 808.1 768.8 805.4 767.5 803.8C766.2 802.1 763.6 801.5 762.5 800C761.4 798.6 760.7 796.8 760.6 795C760.4 792.1 761.4 786.7 761.2 782.5C761.1 778.3 760.6 774.1 760 770C759.4 765.8 758.8 761.2 757.5 757.5C756.3 754 754.3 750.7 752.5 747.5C750.6 744.2 748 741 746.2 737.5C744.4 733.8 742.5 729.2 741.2 725C740 720.9 740 715.7 738.8 712.5C737.7 709.9 735 707.4 733.8 705.6C732.9 704.4 731.5 702.6 731 702C730.9 704.2 730.6 710.7 730.5 715C730.3 723 730 738.3 730 750C730 762.5 730.2 780.8 730.5 790C730.7 795 731.4 801.2 732 805C732.4 807.6 733.2 810.2 734.4 812.5C735.7 815.1 739.1 819.2 740 820.5C736.6 820.5 722.8 820.8 719.4 820.8C719.5 819.6 720 816.1 719.9 813.8C719.8 811.3 719.3 808.4 718.8 805.7C718.3 802.8 717 799.1 716.8 796.6C716.7 794.5 717.4 792.5 717.8 790.5C718.4 787.8 720 783.8 720.4 780.3C720.9 775.2 721.1 766.1 720.9 760C720.8 754.6 719.8 748.5 719.4 743.8C719.1 739.6 718.6 735.4 718.8 731.2C718.9 727.1 719.6 722.9 720 718.8C720.4 714.6 721.1 709.8 721.2 706.2C721.3 703.3 721.2 700.4 720.6 697.5C720 694.6 718.9 691.2 717.5 688.8C716.2 686.4 714.4 683.9 712.5 682.5C710.7 681.2 708.4 680.6 706.2 680.4C702.5 680.1 694 680.5 690 680.6C687.4 680.7 684.8 681 682.2 681.2C679.7 681.5 676 681.8 674.8 681.9C674.1 682.8 672.1 685.5 671 687.5C669.6 690.1 667.7 694.3 666.2 697.8C664.6 701.5 662.9 705.6 661.5 709.5C660.1 713.4 658.5 718 657.6 721.2C656.9 723.8 656.5 726.4 656.4 729C656.3 731.9 656.5 735.3 656.8 738.4C657.1 741.7 657.8 745.2 658 748.6C658.3 753.9 658.3 764.2 658.5 770C658.7 774.4 659.1 779.5 659.4 783.2C659.6 786.1 659.6 789.2 660.3 792C661 794.8 662.6 797.7 663.8 799.9C664.8 801.8 666.3 803.7 667.3 805.2C668 806.4 669.5 807.3 669.5 808.7C669.5 810.2 667.9 812.2 667.3 814C666.6 816 665.9 819.4 665.6 820.5C664.1 820.5 658.3 820.5 656.8 820.5C656.9 819.4 657.6 816.2 657.7 814C657.8 811.7 657.7 808.7 657.2 806.9C656.9 805.6 655.7 804.6 655 803.4C654 801.6 652.1 798.9 651.5 796.4C650.8 793 650.9 787.6 650.6 783.2C650.3 778.8 650.2 774.4 649.8 770C649.2 764.5 648.3 755.8 647.2 750C646.3 744.9 644.8 739.4 643.5 735C642.4 731.2 640.8 726.7 639.8 723.8C639 721.6 637.5 718.5 637 717.4C636.4 717.8 634.3 718.8 633.5 720C632.3 721.7 630.8 725 629.8 727.5C628.7 729.9 627.7 732.4 627 735C625.8 739.4 623.5 748.8 622.2 753.8C621.3 757.5 620.4 761.2 619.8 765C618.9 769.9 617.8 778.3 617.2 783.2C616.7 787 615.8 791.8 615.9 794.6C616 796.5 617.2 798.2 618.1 799.9C619.1 801.9 621.6 804.3 622.1 806.9C622.8 810.4 622.3 818.6 622.3 821C620.1 821 611.1 820.8 608.9 820.8C608.8 819.9 608.9 817.4 608.5 815.7C608 813.5 606.8 810.3 605.8 807.8C604.9 805.4 603.1 802.6 602.7 800.8C602.4 799.3 602.9 797.8 603.2 796.4C603.9 793.5 605.8 787.6 606.7 783.2C607.6 778.8 608.4 774.4 608.9 770C609.4 765.5 609.4 760.8 609.8 756.2C610.2 750.8 611.4 743.8 611.6 737.5C611.8 731.3 610.7 722.9 611 718.8C611.2 716.5 612.3 714.4 613.5 712.5C614.8 710.4 617.4 708.7 618.5 706.2C620 703.1 621.1 698 622.2 693.8C623.4 689.4 624.9 684.7 625.5 680C626.2 674.7 626.3 665 626.5 662C625.8 661.9 623.3 660.3 622.2 661.2C620.5 662.8 617.6 667.7 616 671.2C614.3 675 613.3 679.5 612.2 683.8C611 688.5 609.8 695.2 608.5 700C607.4 704.2 605.8 708.3 604.8 712.5C603.6 717.3 602.6 723.8 601.6 728.8C600.6 733.3 599.6 738.3 598.5 742.5C597.5 746.3 595.9 751.1 594.8 753.8C594 755.4 592.6 758.5 591.6 758.1C590.6 757.7 589.2 753.7 588.5 751.2C587.7 748.2 586.7 743.3 586.6 740C586.5 737.1 587 734.1 587.9 731.2C589 727.7 591.5 722.7 593.5 718.8C595.4 714.9 598.3 710.2 599.8 707.5C600.6 705.9 601.7 704.3 602.2 702.5C603.2 699.2 604.4 692.5 605.4 687.5C606.4 682.5 607.4 677.5 608.5 672.5C609.6 667.5 611 662.1 612.2 657.5C613.4 653.3 614.6 649.1 616 645C617.5 640.8 619.3 635.8 621 632.5C622.3 629.8 624.2 627.4 626 625C627.9 622.6 629.8 620 632.2 618.1C635 616 638.7 613.9 642.2 612.5C645.8 611 650 610.4 653.5 609.4C656.9 608.4 660.5 608 663.5 606.2C667 604.3 671.6 600.6 674.8 597.5C677.8 594.5 679.8 590.7 682.5 587.5C685.5 584 689.2 579.8 692.5 576.2C695.7 572.8 699.6 568.5 702.5 566.2C704.7 564.5 707.4 563.6 710 562.5C712.9 561.2 717.1 560.2 720 558.8C722.7 557.4 725.1 555.5 727.5 553.8C730 552 732.9 549.9 735 548.1C736.8 546.5 738.3 544.7 740 543C741.9 541.1 744.3 539.1 746.2 537C748.9 534.2 752.9 529.8 756 526C759.3 522 763.1 517.1 766 513C768.6 509.3 770.9 505.4 773.1 501.5C775.4 497.2 777.6 491.9 780 487.5C782.3 483.2 785 478.8 787.5 475C789.8 471.5 793.8 466.7 795 465C793.1 463.8 786.3 460.1 783.8 457.5C781.6 455.4 780.2 450.8 779.5 449.5Z"/>
<path id="rhino-line" d="M661.5 729.1C661.8 727 662.1 724.7 663.1 722.8C664.1 720.7 666 718.5 667.8 716.6C669.7 714.4 672.5 711.7 674.8 709.5C677.1 707.4 679.5 705.4 681.8 703.3C684.3 701.1 687 698.4 689.6 696.2C692.1 694.2 694.6 691.9 697.5 690.5C700.7 688.9 704.9 687.5 708.8 686.9C713.8 686.1 721.2 686.1 727.5 686C733.7 685.9 740 685.9 746.2 686C752.5 686.1 759.6 686.5 765 686.9C769.6 687.2 775.2 687.6 778.8 688.1C781.3 688.5 783.8 689.3 786.2 690C789 690.7 792 692.1 795 692.5C798.5 693 803.3 693.3 807.5 693.1C811.7 692.9 815.9 692.2 820 691.2C824.2 690.3 829.2 688.4 832.5 687.5C835 686.8 837.5 686.1 840 685.6C842.5 685.1 845 684.8 847.5 684.8C850 684.8 852.6 685 855 685.6C857.7 686.3 860.9 687.5 863.8 688.8C866.9 690.1 870.4 692.1 873.8 693.8C877.1 695.5 880.7 697.4 883.8 699C886.5 700.4 889.6 701.9 891.9 703.1C893.8 704.1 895.8 704.9 897.5 706.2C899.3 707.6 901 709.8 902.5 711.2C903.8 712.5 905.1 714.1 906.2 715C907.2 715.7 908.4 716.6 909.4 716.5C910.4 716.4 911.7 715.3 912.5 714.4C913.4 713.3 914.3 710.9 915 710C915.4 709.5 916.2 709 916.5 708.8C916.6 709.4 917.1 711.3 916.9 712.5C916.6 714.4 915.8 717.6 915 720C914.2 722.5 912.5 725.4 911.9 727.5C911.4 729.1 911 730.8 911.2 732.5C911.6 734.4 912.6 736.8 913.8 738.8C915 740.8 917.1 743.2 918.8 745C920.3 746.6 922.1 748.2 923.8 749.4C925.3 750.5 927.3 751.6 928.8 751.9C930 752.2 931.3 751.6 932.5 751.2C933.8 750.9 935 749.6 936.2 749.8C937.5 749.9 939.1 750.9 940 752C941 753.2 941.3 755.8 942 757C942.6 758 944 759 944.4 759.4C945.5 759 949.1 758 951.2 756.9C953.9 755.5 957.3 753.4 960 751.2C962.7 749.1 965.4 746.5 967.5 743.8C969.5 741.1 971.2 737.4 972.5 735C973.4 733.2 974.6 730.3 975 729.4C975.3 730.1 976.6 732.2 976.9 733.8C977.3 735.9 977.6 739.6 977.2 742.5C976.8 745.6 975.8 749.4 974.4 752.5C973 755.6 970.8 758.5 968.8 761.2C966.6 764.2 963.5 767.3 961.2 770C959.1 772.5 956.4 775.4 955 777.5C954 779 953.2 780.7 953.1 782.5C953 784.4 954.5 786.9 954.4 788.8C954.3 790.5 953.6 792.3 952.5 793.8C951.4 795.2 948.9 796.6 947.5 797.5C946.4 798.2 945.3 799 944 799.4C942.1 800 938.6 800.7 936.2 801C934.2 801.2 932.1 801.3 930 801C927.7 800.6 924.9 799.7 922.5 798.8C919.8 797.6 916.2 795.9 913.8 794.4C911.5 793.1 909.5 791.5 907.5 790C905.4 788.4 903.3 786.5 901.2 785C899.3 783.6 896.6 782 895 781.2C894 780.8 893 780.7 891.9 780.6C890 780.4 885.9 780.4 883.8 780.3C882.1 780.2 880.2 780.1 878.8 779.8C877.4 779.4 876.3 778.6 875 778.1C873.5 777.5 871.8 776.4 870 776.2C868.1 776 865.8 776.5 863.8 776.9C861.7 777.3 859.1 778 857.5 778.8C856.3 779.3 854.8 780 854.4 781.2C854 782.5 854.7 784.6 855 786.2C855.4 788.3 856.1 791.3 856.9 793.8C857.7 796.5 858.9 799.8 860 802.5C861.1 805.1 862.3 807.7 863.8 810C865.2 812.3 867.1 814.3 868.8 816.2C870.3 818.1 872.9 820.6 873.8 821.5C868.2 821.5 846.1 821.5 840.6 821.5C840.8 820.4 841.6 817.1 841.9 815C842.2 812.9 842.4 809.8 842.5 808.8C842 809 840.4 809.5 839.4 810C837.5 810.8 834 812.7 831.2 813.8C828 815 823.7 816.2 820 817.5C816 818.9 809.6 821.2 807.5 821.9C808.1 820.3 810 815.6 811.2 812.5C812.5 809.3 814 804.9 815 802.5C815.7 801 817.1 798.8 817.5 798.1C817.9 798.6 819 800.4 820 801.2C821 802.1 822.5 802.9 823.8 803.1C825 803.3 826.3 803 827.5 802.5C828.8 802 830.6 800.4 831.2 800C831.2 799.7 831.5 798.7 831.2 798.1C830.6 796.4 828.8 792.7 827.5 790C826.2 787.3 824.4 783.2 823.8 781.9C822.1 782.2 817.1 783.2 813.8 783.8C810 784.4 805.4 785 801.2 785.6C796.7 786.2 791.2 787.2 786.2 787.5C781.3 787.8 775.8 787.9 771.2 787.5C767 787.1 762.8 786.2 758.8 785C754.6 783.8 750.2 781.9 746.2 780C742.4 778.2 738.3 775.8 735 773.8C732 771.9 727.7 768.5 726.2 767.5C726.5 768.8 726.7 772.6 727.5 775C728.5 778.3 730.8 783.3 732.5 787.5C734.2 791.7 735.6 796.7 737.5 800C739.1 802.8 741.7 805.4 743.8 807.5C745.6 809.4 748.1 810.8 750 812.5C751.8 814.1 753.6 816 755 817.5C756.1 818.7 757.6 820.8 758.1 821.4C754.4 821.4 739.7 821.4 736 821.4C735.2 820.7 732.8 818.4 731 817C729.1 815.6 726.8 814.3 724.9 812.8C723.1 811.3 721.6 809.4 719.9 807.7C718.2 806 716.3 804.5 714.8 802.7C713.1 800.7 711.3 798 709.7 795.5C708 792.8 706.3 789.3 704.6 786.4C703 783.7 700.9 780.2 699.5 778.3C698.7 777.1 697 775.7 696.5 775.2C695.8 775.9 693.5 777.7 692.4 779.3C691 781.2 689.5 783.9 688.4 786.4C687.2 789.1 685.9 792.8 685.3 795.5C684.8 797.8 684.6 800.3 684.8 802.7C685 805.2 685.5 808.3 686.3 810.8C687 813.3 688.4 816.1 689.4 817.9C690.2 819.2 691.9 820.8 692.4 821.4C690 821.3 680.4 821.1 678 821C677.4 819.8 675.4 815.9 674.4 814C673.6 812.5 672.6 811 671.7 809.5C670.7 807.7 669.3 805.5 668.2 803.4C667 801.2 665.4 798.8 664.7 796.4C664 794.1 663.5 791.7 663.8 789.3C664.2 786.4 666.2 782 667.3 778.8C668.3 775.9 669.2 772.7 670.1 770C670.9 767.6 671.8 765.1 672.4 762.7C673 760.4 673.6 757.8 673.6 755.6C673.6 753.5 672.8 751.5 672.4 749.4C671.9 747.3 671.3 745.2 670.9 743.1C670.5 741.1 670.5 739 670.1 736.9C669.7 734.7 669.1 731.3 668.5 729.8C668.2 729 666.9 728.2 666.6 727.9C666.4 728.4 665.6 729.6 665.4 730.6C665.1 732.8 665 737.4 664.6 740.8C664.2 744.2 663.8 747.9 663.1 750.9C662.5 753.6 661.8 756.7 660.7 758.8C659.8 760.6 658.1 762.6 656.8 763.4C655.7 764.1 653.7 764 652.9 763.8C652.2 763.6 651.8 762.5 652.1 761.9C652.5 761.1 654.4 759.9 655.2 758.8C656.4 757.2 658.3 754.8 659.2 752.5C660.1 750.2 660.4 747.3 660.7 744.7C661 742.1 661 739.5 661.1 736.9C661.2 734.3 661.2 731.5 661.5 729.1Z"/>
</g>
</g>
<line x1="102" y1="823.3" x2="992" y2="823.3" stroke="#3a4a63" stroke-width="1.3"/>
<g id="xlabels" class="t-axis" font-size="23.3" text-anchor="middle">
<text x="128.45" y="853.6" textLength="56.2" lengthAdjust="spacingAndGlyphs">2006</text>
<text x="233.19" y="853.6" textLength="56.2" lengthAdjust="spacingAndGlyphs">2008</text>
<text x="337.93" y="853.6" textLength="56.2" lengthAdjust="spacingAndGlyphs">2010</text>
<text x="442.66" y="853.6" textLength="56.2" lengthAdjust="spacingAndGlyphs">2012</text>
<text x="547.4" y="853.6" textLength="56.2" lengthAdjust="spacingAndGlyphs">2014</text>
<text x="652.14" y="853.6" textLength="56.2" lengthAdjust="spacingAndGlyphs">2016</text>
<text x="756.88" y="853.6" textLength="56.2" lengthAdjust="spacingAndGlyphs">2018</text>
<text x="861.61" y="853.6" textLength="56.2" lengthAdjust="spacingAndGlyphs">2020</text>
<text x="966.35" y="853.6" textLength="56.2" lengthAdjust="spacingAndGlyphs">2022</text>
</g>
<g id="values">
<rect x="897.1" y="214.1" width="95.4" height="37.1" fill="#0f2741"/>
<rect x="880" y="254.4" width="112.5" height="37.7" fill="#cc0000"/>
<text class="t-val" y="242" font-size="30.5"><tspan x="906.19" textLength="74.06" lengthAdjust="spacingAndGlyphs">6.161</tspan></text>
<text class="t-val" y="282.5" font-size="30.5"><tspan x="889.6" textLength="93.45" lengthAdjust="spacingAndGlyphs">10.739</tspan></text>
</g>
<g id="footer">
<text class="t-src" y="905.7" font-size="26.3"><tspan x="30.83" textLength="84.43" lengthAdjust="spacingAndGlyphs">Quelle:</tspan> <tspan x="121.63" textLength="60.89" lengthAdjust="spacingAndGlyphs">IUCN</tspan></text>
<g id="cc" fill="none" stroke="#c4ccd5" stroke-width="4.8">
<circle cx="55.5" cy="968" r="22.5"/>
<circle cx="117" cy="968" r="22.5"/>
<circle cx="178.6" cy="968" r="22.5"/>
</g>
<g id="cc-inner" fill="#c4ccd5">
<text x="55.5" y="975.9" font-size="29.5" font-weight="700" text-anchor="middle" textLength="30" lengthAdjust="spacingAndGlyphs" fill="#c4ccd5" stroke="#c4ccd5" stroke-width="0.5">cc</text>
<circle cx="117.1" cy="955.2" r="3.4"/>
<rect x="110.4" y="959.6" width="13.4" height="13.2" rx="1"/>
<rect x="113.3" y="970" width="7.6" height="14.2"/>
<rect x="170.2" y="962.2" width="18.3" height="3.9"/>
<rect x="170.2" y="970.6" width="18.3" height="3.9"/>
</g>
<clipPath id="logo-clip"><rect x="730" y="942.9" width="205" height="60"/></clipPath>
<text class="t-logo" y="991.0" font-size="70.5" stroke="#0f2741" stroke-width="1.6" stroke-linejoin="round" clip-path="url(#logo-clip)"><tspan x="737.03" textLength="26.26" lengthAdjust="spacingAndGlyphs">s</tspan><tspan x="764.9" textLength="17.99" lengthAdjust="spacingAndGlyphs">t</tspan><tspan x="785.58" textLength="25.58" lengthAdjust="spacingAndGlyphs">a</tspan><tspan x="816.5" textLength="18.09" lengthAdjust="spacingAndGlyphs">t</tspan><tspan x="836.64" textLength="14.99" lengthAdjust="spacingAndGlyphs">i</tspan><tspan x="852.82" textLength="26.37" lengthAdjust="spacingAndGlyphs">s</tspan><tspan x="880.7" textLength="17.89" lengthAdjust="spacingAndGlyphs">t</tspan><tspan x="901.48" textLength="25.58" lengthAdjust="spacingAndGlyphs">a</tspan></text>
<g id="logo-mark">
<rect x="943.2" y="943" width="49.7" height="49.7" rx="1.2" fill="#0f2741"/>
<path d="M942.2 981.75 C971 981.75 964.7 953.6 994 953.6" fill="none" stroke="#f4f7fb" stroke-width="11.2"/>
</g>
</g>
</svg>
</body>
</html>
